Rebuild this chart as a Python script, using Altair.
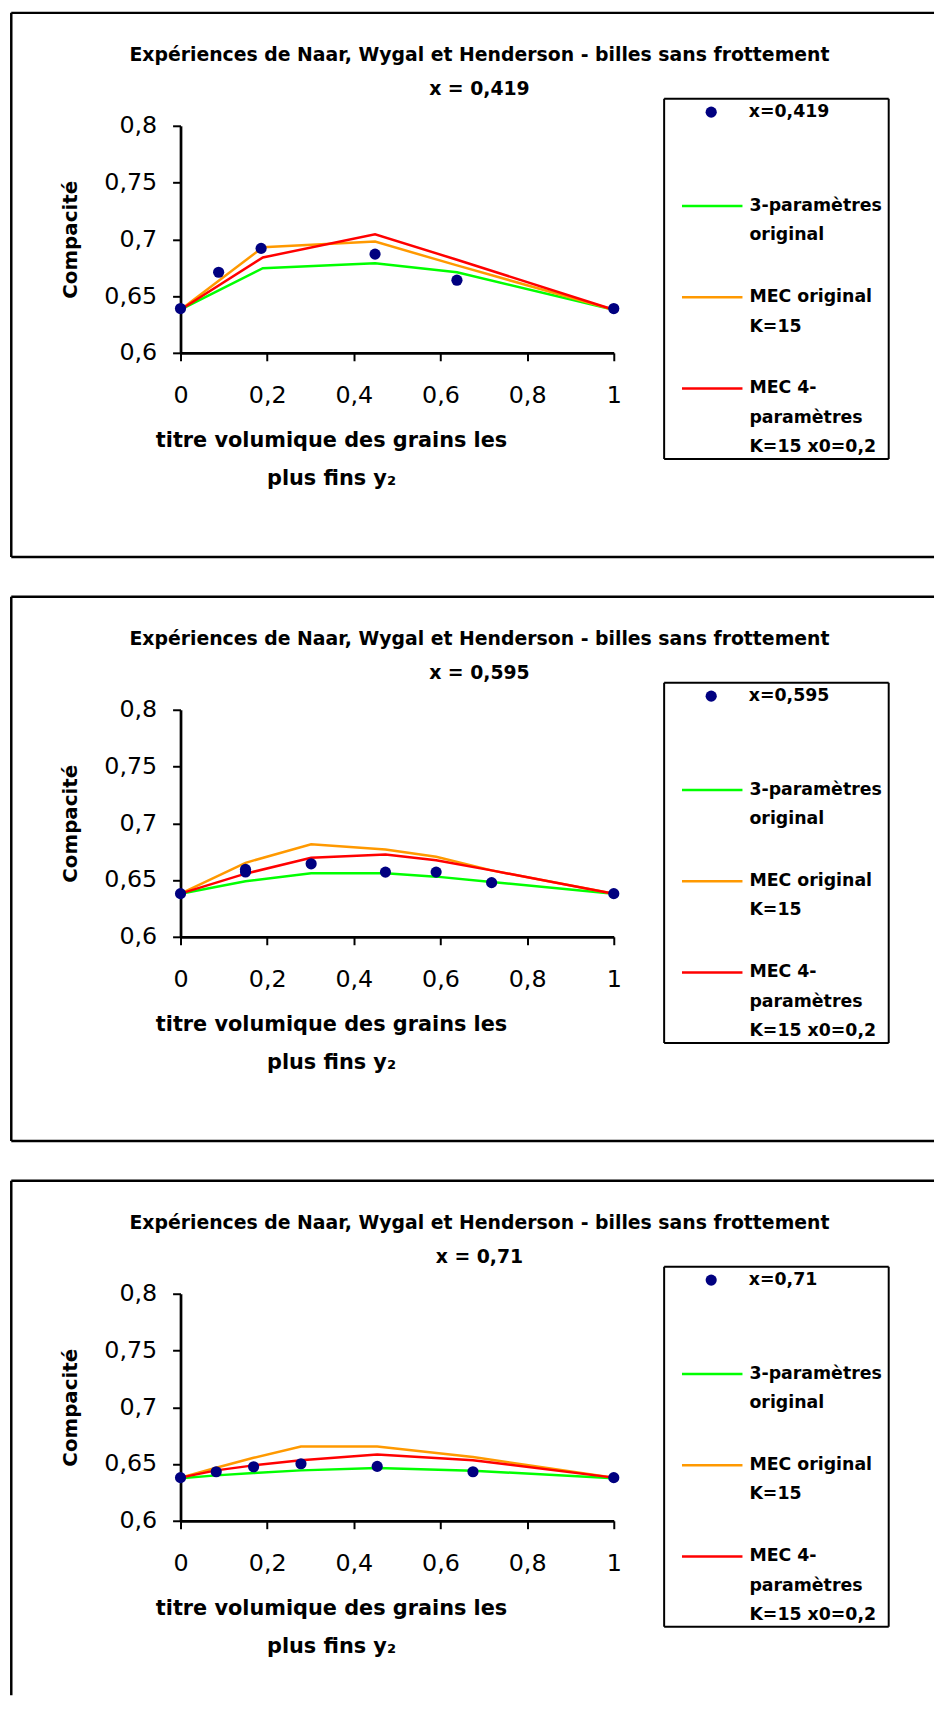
import altair as alt
import pandas as pd

FONT = "DejaVu Sans"

MAIN_TITLE = "Expériences de Naar, Wygal et Henderson - billes sans frottement"
X_TITLE = ["titre volumique des grains les", "plus fins y₂"]
Y_TITLE = "Compacité"
SERIES = ["3-paramètres\noriginal", "MEC original\nK=15", "MEC 4-\nparamètres\nK=15 x0=0,2"]
POINT_COLOR = "#000080"
LINE_COLORS = ["#00ff00", "#ff9900", "#ff0000"]
X_TICKS = [0, 0.2, 0.4, 0.6, 0.8, 1]
Y_TICKS = [0.6, 0.65, 0.7, 0.75, 0.8]

# ---- panel 1 : x = 0,419
P1_LABEL = "x=0,419"
P1_SUB = "x = 0,419"
P1_OBS_X = [0, 0.088, 0.186, 0.449, 0.638, 1]
P1_OBS_Y = [0.639, 0.671, 0.692, 0.687, 0.664, 0.639]
P1_MOD_X = [0, 0.19, 0.449, 0.638, 1]
P1_GREEN = [0.638, 0.6745, 0.679, 0.671, 0.638]
P1_ORANGE = [0.638, 0.693, 0.698, 0.677, 0.638]
P1_RED = [0.638, 0.684, 0.7045, 0.682, 0.638]

# ---- panel 2 : x = 0,595
P2_LABEL = "x=0,595"
P2_SUB = "x = 0,595"
P2_OBS_X = [0, 0.15, 0.15, 0.3015, 0.473, 0.59, 0.718, 1]
P2_OBS_Y = [0.638, 0.6594, 0.6571, 0.6643, 0.657, 0.657, 0.6477, 0.638]
P2_MOD_X = [0, 0.15, 0.3015, 0.473, 0.59, 0.718, 1]
P2_GREEN = [0.638, 0.6489, 0.6559, 0.6559, 0.653, 0.6483, 0.638]
P2_ORANGE = [0.638, 0.6652, 0.6815, 0.6769, 0.6705, 0.6585, 0.638]
P2_RED = [0.638, 0.6556, 0.6696, 0.6725, 0.6675, 0.6585, 0.638]

# ---- panel 3 : x = 0,71
P3_LABEL = "x=0,71"
P3_SUB = "x = 0,71"
P3_OBS_X = [0, 0.0824, 0.1687, 0.278, 0.454, 0.675, 1]
P3_OBS_Y = [0.638, 0.6432, 0.6476, 0.6502, 0.6479, 0.6432, 0.638]
P3_MOD_X = [0, 0.0824, 0.1687, 0.278, 0.454, 0.675, 1]
P3_GREEN = [0.6374, 0.640, 0.642, 0.6444, 0.6464, 0.6441, 0.6374]
P3_ORANGE = [0.638, 0.6467, 0.6555, 0.6654, 0.6654, 0.6561, 0.638]
P3_RED = [0.638, 0.6444, 0.6488, 0.6534, 0.6584, 0.6534, 0.638]

PLOT_W = 437
PLOT_H = 229

# frame of each panel (pixels, relative to the plot area)
BOX_L = -170.7
BOX_R = 760
BOX_T = -113.9
BOX_B = 435
# legend frame
LEG_L = 487.8
LEG_R = 714.3
LEG_T = -27.3
LEG_B = 336

LEGEND_LABEL = dict(
    labelFont=FONT, labelFontSize=17.5, labelFontWeight="bold", labelColor="black",
    labelLimit=400, labelBaseline="middle", labelExpr="split(datum.label, '\\n')",
)


def point_legend():
    return alt.Legend(
        title=None, orient="none", legendX=526.5, legendY=-22.5, direction="vertical",
        padding=0, symbolType="circle", symbolSize=127, symbolStrokeWidth=0,
        symbolOpacity=1, labelOffset=29.2, **LEGEND_LABEL,
    )


def line_legend():
    return alt.Legend(
        title=" ", titleFontSize=17.5, titlePadding=64, orient="none",
        legendX=504.3, legendY=-32.5, direction="vertical", padding=0,
        symbolType="stroke", symbolSize=3721, symbolStrokeWidth=2.5, symbolOpacity=1,
        labelOffset=5.5, rowPadding=22, gridAlign="each", **LEGEND_LABEL,
    )


def frame_rule(base, **enc):
    return base.mark_rule(color="black", strokeWidth=2.5).encode(**enc)


def make_panel(label, sub, obs_x, obs_y, mod_x, green, orange, red, last=False):
    pts = pd.DataFrame({"y2": obs_x, "c": obs_y, "serie": [label] * len(obs_x)})
    rows = []
    for name, vals in zip(SERIES, [green, orange, red]):
        for xv, yv in zip(mod_x, vals):
            rows.append({"y2": xv, "c": yv, "serie": name})
    lines = pd.DataFrame(rows)

    x_axis = alt.Axis(
        values=X_TICKS, format=".1~f", labelExpr="replace(datum.label, '.', ',')",
        title=X_TITLE, grid=False,
        domainColor="black", domainWidth=2.75, tickColor="black", tickWidth=2, tickSize=8,
        labelFont=FONT, labelFontSize=24, labelColor="black", labelPadding=23,
        labelFlush=False, labelOverlap=False,
        titleFont=FONT, titleFontSize=21, titleFontWeight="bold", titleColor="black",
        titleX=151.8, titleY=94.5, titleAlign="center", titleBaseline="alphabetic",
        titleLineHeight=38,
    )
    y_axis = alt.Axis(
        values=Y_TICKS, format=".2~f", labelExpr="replace(datum.label, '.', ',')",
        title=Y_TITLE, grid=False,
        domainColor="black", domainWidth=2.75, tickColor="black", tickWidth=2, tickSize=8,
        labelFont=FONT, labelFontSize=24, labelColor="black", labelPadding=16,
        labelFlush=False, labelOverlap=False,
        titleFont=FONT, titleFontSize=20, titleFontWeight="bold", titleColor="black",
        titleX=-100.7, titleY=114.5, titleAngle=270, titleAlign="center", titleBaseline="bottom",
    )
    x = alt.X("y2:Q", scale=alt.Scale(domain=[0, 1], nice=False), axis=x_axis)
    y = alt.Y("c:Q", scale=alt.Scale(domain=[0.6, 0.8], nice=False, zero=False), axis=y_axis)

    line_layer = alt.Chart(lines).mark_line(strokeWidth=2.5).encode(
        x=x, y=y,
        stroke=alt.Stroke("serie:N", scale=alt.Scale(domain=SERIES, range=LINE_COLORS),
                          legend=line_legend()),
    )
    point_layer = alt.Chart(pts).mark_circle(size=127, opacity=1).encode(
        x=x, y=y,
        fill=alt.Fill("serie:N", scale=alt.Scale(domain=[label], range=[POINT_COLOR]),
                      legend=point_legend()),
    )

    base = alt.Chart(pd.DataFrame({"k": [0]}))
    layers = [
        frame_rule(base, x=alt.value(BOX_L), x2=alt.value(BOX_R), y=alt.value(BOX_T)),
        frame_rule(base, x=alt.value(BOX_L), y=alt.value(BOX_T), y2=alt.value(405 if last else BOX_B)),
    ]
    if not last:
        layers.append(frame_rule(base, x=alt.value(BOX_L), x2=alt.value(BOX_R), y=alt.value(BOX_B)))

    # legend frame
    leg = dict(color="black", strokeWidth=2)
    layers += [
        base.mark_rule(**leg).encode(x=alt.value(LEG_L), x2=alt.value(LEG_R), y=alt.value(LEG_T)),
        base.mark_rule(**leg).encode(x=alt.value(LEG_L), x2=alt.value(LEG_R), y=alt.value(LEG_B)),
        base.mark_rule(**leg).encode(x=alt.value(LEG_L), y=alt.value(LEG_T), y2=alt.value(LEG_B)),
        base.mark_rule(**leg).encode(x=alt.value(LEG_R), y=alt.value(LEG_T), y2=alt.value(LEG_B)),
    ]

    # two-line chart title
    tstyle = dict(font=FONT, fontSize=19, fontWeight="bold", color="black",
                  align="center", baseline="alphabetic")
    layers += [
        base.mark_text(**tstyle).encode(x=alt.value(301.5), y=alt.value(-65), text=alt.value(MAIN_TITLE)),
        base.mark_text(**tstyle).encode(x=alt.value(301.5), y=alt.value(-30.6), text=alt.value(sub)),
    ]

    return alt.layer(*layers, line_layer, point_layer).properties(width=PLOT_W, height=PLOT_H)


p1 = make_panel(P1_LABEL, P1_SUB, P1_OBS_X, P1_OBS_Y, P1_MOD_X, P1_GREEN, P1_ORANGE, P1_RED)
p2 = make_panel(P2_LABEL, P2_SUB, P2_OBS_X, P2_OBS_Y, P2_MOD_X, P2_GREEN, P2_ORANGE, P2_RED)
p3 = make_panel(P3_LABEL, P3_SUB, P3_OBS_X, P3_OBS_Y, P3_MOD_X, P3_GREEN, P3_ORANGE, P3_RED, last=True)

chart = alt.vconcat(p1, p2, p3, spacing=36).resolve_scale(
    x="independent", y="independent", fill="independent", stroke="independent"
).resolve_legend(fill="independent", stroke="independent").properties(
    padding={"left": 1, "top": -4.5, "right": 0, "bottom": 0}, background="white"
).configure(
    style={"guide-label": {"lineHeight": 29.5}}
).configure_view(stroke="transparent")

chart.save("out.html", embed_options={"renderer": "svg", "actions": False})
